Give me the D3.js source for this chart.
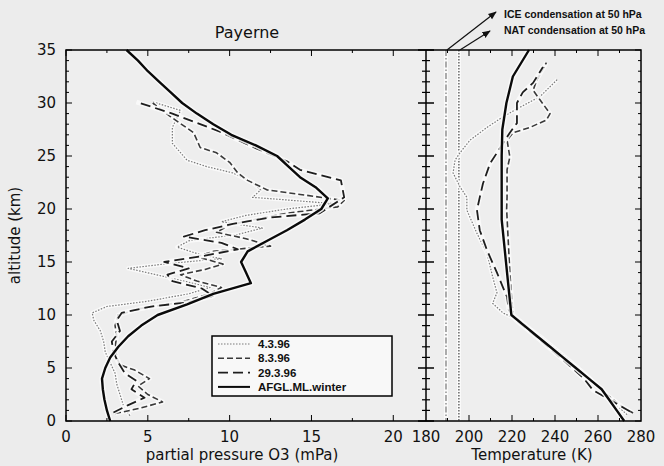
<!DOCTYPE html>
<html><head><meta charset="utf-8">
<script src="https://cdn.jsdelivr.net/npm/d3@7"></script>
<style>body{margin:0;background:#ececec}svg{display:block}</style>
</head><body>
<svg id="c" width="664" height="466"></svg>
<script>
// ---- data ----
const title = "Payerne";
const ozoneTicks = [0, 5, 10, 15, 20];
const tempTicks = [180, 200, 220, 240, 260, 280];
const altTicks = [0, 5, 10, 15, 20, 25, 30, 35];
const seriesNames = ["4.3.96", "8.3.96", "29.3.96", "AFGL.ML.winter"];
// ozone partial pressure (mPa) vs altitude (km): [alt, value]
const ozoneAFGL = [[0,2.7],[1,2.5],[2,2.35],[3,2.25],[4,2.2],[5,2.4],[6,2.7],[7,3.2],[8,3.8],[9,4.6],[10,5.6],[11,7.4],[12,9.0],[13,11.3],[14,11.0],[15,10.7],[16,11.1],[17,12.3],[18,13.5],[19,14.6],[20,15.6],[21,16.0],[22,15.3],[23,14.3],[24,13.6],[25,12.9],[26,11.6],[27,10.1],[28,9.0],[29,8.0],[30,7.1],[31,6.4],[32,5.7],[33,5.0],[34,4.4],[35,3.7]];
const ozone0403 = [[0.5,3.9],[1.5,3.5],[2.5,3.3],[3.5,3.1],[4.5,3.0],[5.5,2.7],[6.5,2.4],[7.5,2.3],[8.5,2.1],[9.5,1.7],[10.2,1.6],[10.8,2.5],[11.3,5.0],[12.0,7.5],[12.6,8.8],[13.2,7.2],[13.8,5.5],[14.4,3.8],[14.9,6.5],[15.3,9.5],[15.8,8.0],[16.4,6.8],[17.0,7.5],[17.6,10.5],[18.2,12.0],[18.8,9.5],[19.4,11.0],[20.0,13.5],[20.5,16.4],[20.9,13.1],[21.1,11.4],[21.8,11.9],[22.5,11.4],[23.4,10.2],[24.0,8.6],[24.6,7.4],[26.2,6.5],[27.7,6.5],[29.3,7.0],[30.1,5.3]];
const ozone0803 = [[0.7,3.0],[1.2,4.5],[1.8,5.9],[2.5,5.0],[3.3,4.4],[4.0,5.1],[4.8,4.2],[5.3,3.3],[6.0,3.1],[7.0,3.0],[8.0,3.1],[9.0,3.0],[10.0,3.2],[10.6,4.5],[11.2,7.0],[12.0,8.8],[12.6,9.5],[13.2,8.0],[13.8,7.0],[14.3,8.5],[14.8,9.6],[15.5,8.0],[16.0,9.0],[16.5,12.5],[17.2,11.0],[17.8,9.2],[18.5,10.0],[19.0,11.5],[19.6,13.5],[20.2,16.6],[20.8,17.0],[21.8,12.3],[22.1,11.9],[22.7,11.1],[23.4,10.5],[24.4,10.0],[25.3,9.2],[25.8,8.2],[27.2,7.8],[28.7,6.4],[30.0,5.3]];
const ozone2903 = [[0.8,2.9],[1.5,3.8],[2.2,4.8],[3.0,4.0],[3.8,4.3],[4.5,3.6],[5.5,3.2],[6.5,2.9],[7.5,2.8],[8.5,3.3],[9.5,3.1],[10.2,3.4],[10.8,5.2],[11.2,7.5],[11.8,9.0],[12.5,8.3],[13.2,6.5],[13.8,6.2],[14.4,7.5],[15.0,6.0],[15.6,8.5],[16.2,10.5],[16.8,9.5],[17.4,7.2],[18.0,8.5],[18.6,10.2],[19.2,12.5],[19.6,15.5],[20.2,16.1],[21.1,17.0],[22.7,16.8],[23.7,14.3],[24.5,13.5],[25.8,11.5],[27.3,9.4],[29.0,6.5],[30.1,4.3]];
// temperature (K) vs altitude (km): [alt, value]
const tempAFGL = [[0,272.2],[1,268.7],[2,265.2],[3,261.7],[4,255.7],[5,249.7],[6,243.7],[7,237.7],[8,231.7],[9,225.7],[10,219.7],[11,219.2],[12,218.7],[13,218.2],[14,217.7],[15,217.2],[16,216.7],[17,216.2],[18,215.7],[19,215.2],[20,215.2],[22,215.2],[24,215.2],[25,215.2],[27.5,215.5],[30,217.4],[32.5,220.4],[35,227.9]];
const temp0403 = [[0.6,273.5],[2,266.0],[4,256.5],[6,245.0],[8,233.0],[9.5,223.0],[10.2,215.8],[11.1,211.0],[12.1,213.0],[13.6,211.0],[15.8,208.4],[17.7,203.7],[19.9,199.0],[21.1,199.0],[22.1,195.8],[23.4,192.6],[24.6,193.5],[25.3,195.8],[26.5,200.5],[27.7,208.4],[28.7,215.8],[29.6,223.7],[30.6,233.0],[32.2,241.0]];
const temp0803 = [[0.75,276.3],[1.3,271.6],[2.5,264.0],[4,256.0],[6,243.5],[8,232.0],[10,220.5],[11,220.0],[12.5,219.5],[14,219.0],[16,218.5],[18,218.0],[20,217.5],[21.1,217.7],[23.7,217.7],[24.9,219.0],[26.5,217.7],[27.2,220.5],[27.7,228.4],[28.4,236.0],[29.0,237.7],[30.3,233.0],[31.2,229.8],[32.2,231.6],[33.8,236.0]];
const temp2903 = [[0.9,274.9],[2.0,265.6],[2.9,257.7],[4,253.5],[6,242.5],[8,231.0],[9.5,222.0],[10.5,218.5],[11.7,217.7],[12.6,215.8],[14.0,213.0],[16.1,208.4],[18.0,205.0],[19.9,203.7],[21.1,205.0],[22.4,206.5],[24.3,209.8],[25.3,213.0],[27.2,219.0],[28.1,222.3],[30.0,222.3],[31.0,225.0],[31.9,229.8],[33.4,234.4]];
const iceTemp = 189.3;
const natTemp = 195.3;
const iceLabel = "ICE condensation at 50 hPa";
const natLabel = "NAT condensation at 50 hPa";

// ---- layout ----
const svg = d3.select("#c");
const X0 = 66, XM = 426, X1 = 641, YT = 50, YB = 421;
const xO = d3.scaleLinear().domain([0, 22]).range([X0, XM]);
const xT = d3.scaleLinear().domain([180, 280]).range([XM, X1]);
const y = d3.scaleLinear().domain([0, 35]).range([YB, YT]);
const font = "'DejaVu Sans', sans-serif";

svg.append("rect").attr("width",664).attr("height",466).attr("fill","#ececec");
svg.append("rect").attr("x",X0).attr("y",YT).attr("width",X1-X0).attr("height",YB-YT).attr("fill","#eeeeee");

const styles = [
  {dash:"1.5,1.5", color:"#7a7a7a", w:1.2},
  {dash:"6,3", color:"#3a3a3a", w:1.6},
  {dash:"10,5", color:"#1e1e1e", w:1.8},
  {dash:null, color:"#0a0a0a", w:2.4}
];

function drawLine(data, xs, st){
  const g = d3.line().x(d => xs(d[1])).y(d => y(d[0]));
  svg.append("path").datum(data).attr("d", g).attr("fill","none")
    .attr("stroke","#fafafa").attr("stroke-width", st.w + 3).attr("stroke-linejoin","round").attr("opacity",0.85);
  svg.append("path").datum(data).attr("d", g).attr("fill","none")
    .attr("stroke", st.color).attr("stroke-width", st.w)
    .attr("stroke-dasharray", st.dash).attr("stroke-linejoin","round");
}

// condensation lines
[iceTemp, natTemp].forEach(t => svg.append("line").attr("x1",xT(t)).attr("x2",xT(t)).attr("y1",YT).attr("y2",YB)
  .attr("stroke","#fafafa").attr("stroke-width",4));
svg.append("line").attr("x1",xT(iceTemp)).attr("x2",xT(iceTemp)).attr("y1",YT).attr("y2",YB)
  .attr("stroke","#777").attr("stroke-width",1.2).attr("stroke-dasharray","6,2,1.5,2");
svg.append("line").attr("x1",xT(natTemp)).attr("x2",xT(natTemp)).attr("y1",YT).attr("y2",YB)
  .attr("stroke","#444").attr("stroke-width",1.2).attr("stroke-dasharray","1.5,1.5");

const ozoneSets = [ozone0403, ozone0803, ozone2903, ozoneAFGL];
const tempSets = [temp0403, temp0803, temp2903, tempAFGL];
ozoneSets.forEach((d,i) => drawLine(d, xO, styles[i]));
tempSets.forEach((d,i) => drawLine(d, xT, styles[i]));

// frame
svg.append("rect").attr("x",X0).attr("y",YT).attr("width",X1-X0).attr("height",YB-YT)
  .attr("fill","none").attr("stroke","#000").attr("stroke-width",1.5);
svg.append("line").attr("x1",XM).attr("x2",XM).attr("y1",YT).attr("y2",YB).attr("stroke","#000").attr("stroke-width",1.5);

// ticks
const tk = svg.append("g").attr("stroke","#000").attr("stroke-width",1);
d3.range(0, 35.01, 1).forEach(a => {
  const major = a % 5 === 0;
  const yy = y(a);
  tk.append("line").attr("x1",X0).attr("x2",X0 + (major?6:3)).attr("y1",yy).attr("y2",yy);
  tk.append("line").attr("x1",X1).attr("x2",X1 - (major?6:3)).attr("y1",yy).attr("y2",yy);
  tk.append("line").attr("x1",XM-(major?8:4)).attr("x2",XM+(major?8:4)).attr("y1",yy).attr("y2",yy).attr("stroke-width",major?1.5:1.2);
});
d3.range(0, 22, 2.5).forEach(v => {
  const major = v % 5 === 0;
  const xx = xO(v);
  tk.append("line").attr("x1",xx).attr("x2",xx).attr("y1",YB).attr("y2",YB-(major?6:3));
  tk.append("line").attr("x1",xx).attr("x2",xx).attr("y1",YT).attr("y2",YT+(major?6:3));
});
d3.range(190, 280, 10).forEach(v => {
  const major = v % 20 === 0;
  const xx = xT(v);
  tk.append("line").attr("x1",xx).attr("x2",xx).attr("y1",YB).attr("y2",YB-(major?6:3));
  tk.append("line").attr("x1",xx).attr("x2",xx).attr("y1",YT).attr("y2",YT+(major?6:3));
});

// tick labels
const tl = svg.append("g").attr("font-family",font).attr("font-size",15).attr("fill","#111");
altTicks.forEach(a => tl.append("text").attr("x",56).attr("y",y(a)).attr("dy","0.36em").attr("text-anchor","end").text(a));
ozoneTicks.forEach(v => tl.append("text").attr("x",xO(v)).attr("y",442).attr("text-anchor","middle").text(v));
tempTicks.forEach(v => tl.append("text").attr("x",xT(v)).attr("y",442).attr("text-anchor","middle").text(v));

// titles
svg.append("text").attr("x",247).attr("y",38).attr("text-anchor","middle").attr("font-family",font).attr("font-size",16).attr("fill","#111").text(title);
svg.append("text").attr("x",242).attr("y",460).attr("text-anchor","middle").attr("font-family",font).attr("font-size",15).attr("fill","#111").text("partial pressure O3 (mPa)");
svg.append("text").attr("x",532).attr("y",460).attr("text-anchor","middle").attr("font-family",font).attr("font-size",15).attr("fill","#111").text("Temperature (K)");
svg.append("text").attr("transform","translate(20,"+((YT+YB)/2)+") rotate(-90)").attr("text-anchor","middle").attr("font-family",font).attr("font-size",15).attr("fill","#111").text("altitude (km)");

// legend
const lg = svg.append("g");
lg.append("rect").attr("x",212).attr("y",336).attr("width",180).attr("height",60).attr("fill","#f8f8f8").attr("stroke","#000").attr("stroke-width",1.5);
seriesNames.forEach((n,i) => {
  const yy = 344 + i*14.3;
  lg.append("line").attr("x1",218).attr("x2",250).attr("y1",yy).attr("y2",yy)
    .attr("stroke",styles[i].color).attr("stroke-width",Math.min(styles[i].w,2)).attr("stroke-dasharray",styles[i].dash);
  lg.append("text").attr("x",258).attr("y",yy).attr("dy","0.36em").attr("font-family","'Liberation Sans', Arial, sans-serif")
    .attr("font-weight","bold").attr("font-size",11.5).attr("fill","#111").text(n);
});

// annotations
const defs = svg.append("defs");
defs.append("marker").attr("id","ah").attr("viewBox","0 0 10 10").attr("refX",9).attr("refY",5)
  .attr("markerWidth",7).attr("markerHeight",7).attr("orient","auto")
  .append("path").attr("d","M0,1 L10,5 L0,9 z").attr("fill","#111");
svg.append("line").attr("x1",xT(iceTemp)+1).attr("y1",YT).attr("x2",496).attr("y2",12)
  .attr("stroke","#111").attr("stroke-width",1.2).attr("marker-end","url(#ah)");
svg.append("line").attr("x1",xT(natTemp)+1).attr("y1",YT).attr("x2",490).attr("y2",31)
  .attr("stroke","#111").attr("stroke-width",1.2).attr("marker-end","url(#ah)");
svg.append("text").attr("x",504).attr("y",18).attr("font-family","'Liberation Sans', Arial, sans-serif").attr("font-weight","bold")
  .attr("font-size",10.5).attr("fill","#111").text(iceLabel);
svg.append("text").attr("x",504).attr("y",34).attr("font-family","'Liberation Sans', Arial, sans-serif").attr("font-weight","bold")
  .attr("font-size",10.5).attr("fill","#111").text(natLabel);
</script>
</body></html>
